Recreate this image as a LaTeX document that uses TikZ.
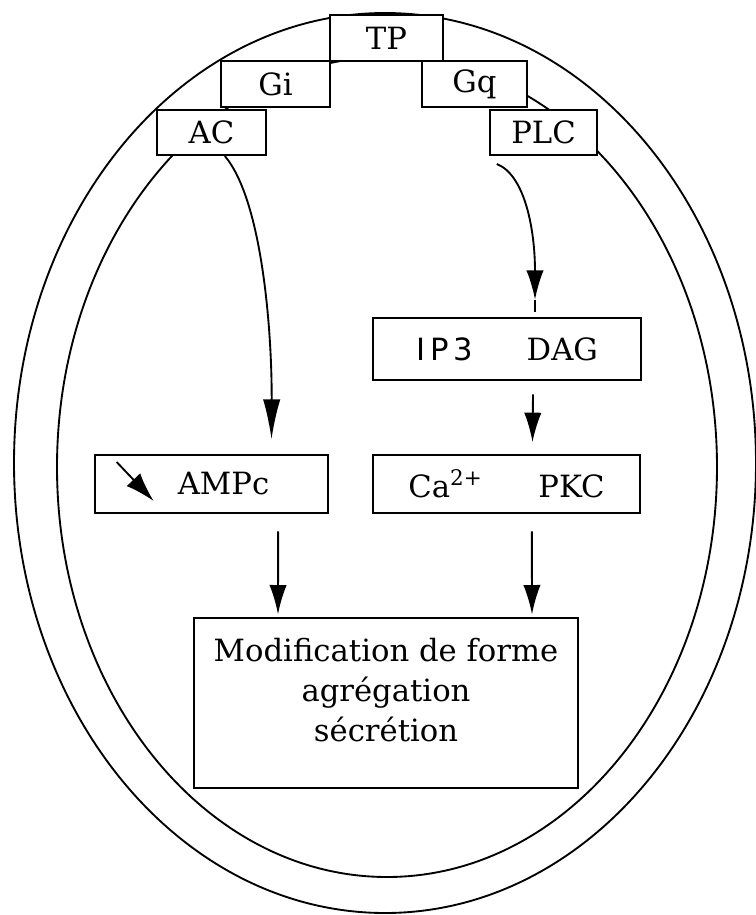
\documentclass[tikz,border=0pt]{standalone}
\usepackage{fontspec}
\setmainfont{DejaVu Serif}
\setsansfont{DejaVu Sans}
\usetikzlibrary{arrows.meta}

\tikzset{
  cellbox/.style={draw, fill=white, line width=1.5pt, inner sep=0pt,
    font=\fontsize{23}{30}\selectfont},
  flow/.style={line width=1.4pt, -{Latex[length=22pt,width=13pt]}},
  membrane/.style={line width=1.4pt},
}

\begin{document}
\begin{tikzpicture}[x=0.75pt, y=-0.75pt]
  \useasboundingbox (0,0) rectangle (756,915);
  % the two membranes
  \draw[membrane] (385,463) ellipse [x radius=278.25pt, y radius=337.5pt];
  \draw[membrane] (387,467) ellipse [x radius=247.5pt, y radius=307.5pt];

  % receptor, G proteins and effectors
  \node[cellbox, minimum width=84.75pt, minimum height=34.5pt] (tp) at (386.5,38) {TP};
  \node[cellbox, minimum width=81.75pt, minimum height=34.5pt] (gi) at (275.5,84) {Gi};
  \node[cellbox, minimum width=78.75pt, minimum height=34.5pt] (gq) at (474.5,84) {Gq};
  \node[cellbox, minimum width=81.75pt, minimum height=33.75pt] (ac) at (211.5,132.5) {AC};
  \node[cellbox, minimum width=80.25pt, minimum height=33.75pt] (plc) at (543.5,132.5) {PLC};

  % second messengers
  \node[cellbox, minimum width=201pt, minimum height=46.5pt] (ipdag) at (507,349)
    {{\sffamily I\,P\,3}\hspace{40pt}DAG};
  \node[cellbox, minimum width=200.25pt, minimum height=43.5pt] (capkc) at (506.5,484)
    {Ca\textsuperscript{2+}\hspace{42pt}PKC};
  \node[cellbox, minimum width=174.75pt, minimum height=43.5pt] (ampc) at (211.5,484)
    {\hspace{18pt}AMPc};
  \draw[flow, -{Latex[length=22pt,width=14pt]}] ([xshift=17pt,yshift=-6pt]ampc.north west) -- ++(37,39);

  % response
  \node[cellbox, minimum width=288pt, minimum height=127.5pt] (modif) at (386,703) {};
  \node[align=center, font=\fontsize{23}{30}\selectfont] (modiftxt) at ([yshift=10pt]modif.center)
    {Modification de forme\\agrégation\\sécrétion};

  % pathways
  \draw[flow, -{Latex[length=30pt,width=13pt]}] ([xshift=10pt]ac.south)
    .. controls (262,200) and (272,330) .. ([xshift=45pt,yshift=11pt]ampc.north);
  \coordinate (plctip) at ([xshift=21pt,yshift=13pt]ipdag.north);
  \draw[flow] ([xshift=-35pt,yshift=-6pt]plc.south)
    .. controls (525,175) and (535,230) .. (plctip);
  \draw[line width=1.4pt] (plctip) -- ([xshift=21pt,yshift=4pt]ipdag.north);
  \draw[flow] ([xshift=19.5pt,yshift=-10pt]ipdag.south) -- ([xshift=19.5pt,yshift=9pt]capkc.north);
  \draw[flow] ([xshift=50pt,yshift=-13pt]ampc.south) -- ([xshift=-81pt,yshift=2pt]modif.north);
  \draw[flow] ([xshift=19pt,yshift=-13pt]capkc.south) -- ([xshift=109.5pt,yshift=2pt]modif.north);
\end{tikzpicture}
\end{document}
